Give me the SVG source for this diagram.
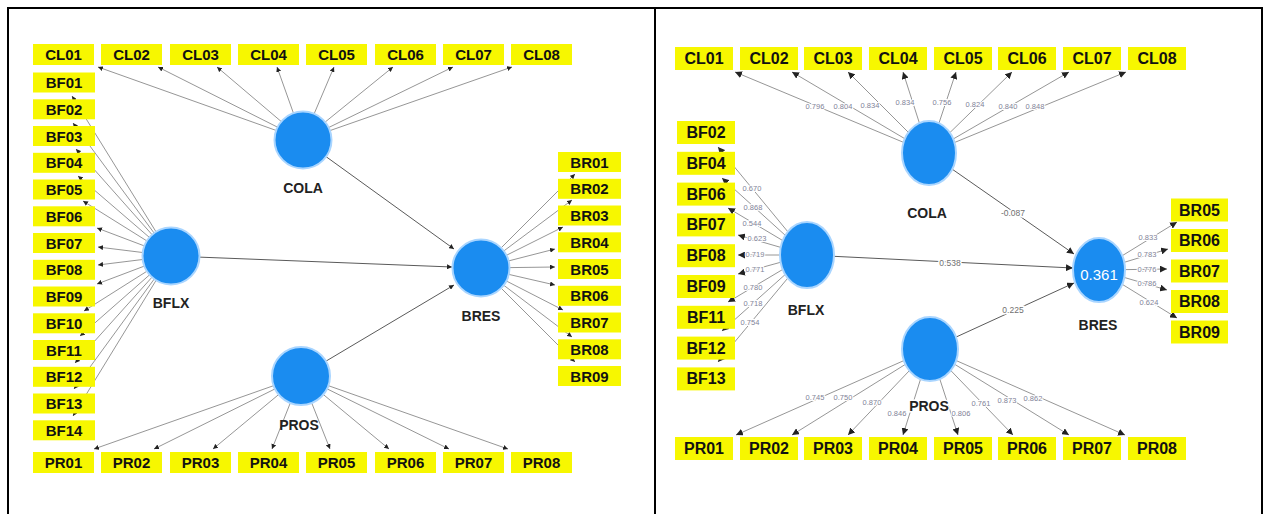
<svg xmlns="http://www.w3.org/2000/svg" width="1264" height="514" viewBox="0 0 1264 514">
<style>
.frame{fill:none;stroke:#000;stroke-width:2}
.ln{stroke:#8a8a8a;stroke-width:0.9;fill:none}
.pth{stroke:#5a5a5a;stroke-width:1;fill:none}
.box{fill:#f7f700}
.bt{font-family:"Liberation Sans",Arial,sans-serif;font-weight:bold;font-size:15px;fill:#111;text-anchor:middle}
.bt2{font-family:"Liberation Sans",Arial,sans-serif;font-weight:bold;font-size:16px;fill:#111;text-anchor:middle}
.lv{fill:#1a8cf0;stroke:#a9d5ff;stroke-width:2}
.lvt{font-family:"Liberation Sans",Arial,sans-serif;font-weight:bold;font-size:14px;fill:#222;text-anchor:middle}
.lvt2{font-family:"Liberation Sans",Arial,sans-serif;font-weight:bold;font-size:14px;fill:#222;text-anchor:middle;stroke:#fff;stroke-width:3;paint-order:stroke}
.r2{font-family:"Liberation Sans",Arial,sans-serif;font-size:15px;fill:#fff;text-anchor:middle}
.ld{font-family:"Liberation Sans",Arial,sans-serif;font-size:7.5px;fill:#7f8398;text-anchor:middle;stroke:#fff;stroke-width:2;paint-order:stroke}
.pl{font-family:"Liberation Sans",Arial,sans-serif;font-size:8.5px;fill:#707070;text-anchor:middle;stroke:#fff;stroke-width:3;paint-order:stroke}
</style>
<defs>
<marker id="a" viewBox="0 0 6 6" refX="6" refY="3" markerWidth="5" markerHeight="5" markerUnits="userSpaceOnUse" orient="auto"><path d="M0,0 L6,3 L0,6 z" fill="#222"/></marker>
<marker id="b" viewBox="0 0 6 6" refX="6" refY="3" markerWidth="7" markerHeight="7" markerUnits="userSpaceOnUse" orient="auto"><path d="M0,0 L6,3 L0,6 z" fill="#222"/></marker>
</defs>
<rect width="1264" height="514" fill="#fff"/>
<g id="frame">
<rect class="frame" x="8" y="8" width="1254" height="530"/>
<line x1="655" y1="8" x2="655" y2="514" stroke="#000" stroke-width="2"/>
</g>

<g id="connectors">
<g class="ln">
<line x1="303" y1="140" x2="98" y2="67" marker-end="url(#a)"/>
<line x1="303" y1="140" x2="158" y2="67" marker-end="url(#a)"/>
<line x1="303" y1="140" x2="217" y2="67" marker-end="url(#a)"/>
<line x1="303" y1="140" x2="277" y2="67" marker-end="url(#a)"/>
<line x1="303" y1="140" x2="334" y2="67" marker-end="url(#a)"/>
<line x1="303" y1="140" x2="393" y2="67" marker-end="url(#a)"/>
<line x1="303" y1="140" x2="453" y2="67" marker-end="url(#a)"/>
<line x1="303" y1="140" x2="512" y2="67" marker-end="url(#a)"/>
<line x1="171" y1="256" x2="72" y2="96" marker-end="url(#a)"/>
<line x1="171" y1="256" x2="73" y2="123" marker-end="url(#a)"/>
<line x1="171" y1="256" x2="76" y2="149" marker-end="url(#a)"/>
<line x1="171" y1="256" x2="78" y2="176" marker-end="url(#a)"/>
<line x1="171" y1="256" x2="83" y2="201" marker-end="url(#a)"/>
<line x1="171" y1="256" x2="97" y2="228" marker-end="url(#a)"/>
<line x1="171" y1="256" x2="98" y2="247" marker-end="url(#a)"/>
<line x1="171" y1="256" x2="98" y2="265" marker-end="url(#a)"/>
<line x1="171" y1="256" x2="97" y2="284" marker-end="url(#a)"/>
<line x1="171" y1="256" x2="84" y2="311" marker-end="url(#a)"/>
<line x1="171" y1="256" x2="80" y2="336" marker-end="url(#a)"/>
<line x1="171" y1="256" x2="75" y2="363" marker-end="url(#a)"/>
<line x1="171" y1="256" x2="74" y2="389" marker-end="url(#a)"/>
<line x1="171" y1="256" x2="73" y2="416" marker-end="url(#a)"/>
<line x1="481" y1="268" x2="575" y2="174" marker-end="url(#a)"/>
<line x1="481" y1="268" x2="572" y2="200" marker-end="url(#a)"/>
<line x1="481" y1="268" x2="563" y2="227" marker-end="url(#a)"/>
<line x1="481" y1="268" x2="555" y2="249" marker-end="url(#a)"/>
<line x1="481" y1="268" x2="555" y2="267" marker-end="url(#a)"/>
<line x1="481" y1="268" x2="555" y2="285" marker-end="url(#a)"/>
<line x1="481" y1="268" x2="563" y2="310" marker-end="url(#a)"/>
<line x1="481" y1="268" x2="572" y2="337" marker-end="url(#a)"/>
<line x1="481" y1="268" x2="575" y2="362" marker-end="url(#a)"/>
<line x1="301" y1="376" x2="94" y2="449" marker-end="url(#a)"/>
<line x1="301" y1="376" x2="154" y2="449" marker-end="url(#a)"/>
<line x1="301" y1="376" x2="213" y2="449" marker-end="url(#a)"/>
<line x1="301" y1="376" x2="272" y2="449" marker-end="url(#a)"/>
<line x1="301" y1="376" x2="330" y2="449" marker-end="url(#a)"/>
<line x1="301" y1="376" x2="389" y2="449" marker-end="url(#a)"/>
<line x1="301" y1="376" x2="449" y2="449" marker-end="url(#a)"/>
<line x1="301" y1="376" x2="508" y2="449" marker-end="url(#a)"/>
</g>
<g class="pth">
<line x1="303" y1="140" x2="454" y2="249" marker-end="url(#a)"/>
<line x1="171" y1="256" x2="452" y2="267" marker-end="url(#a)"/>
<line x1="301" y1="376" x2="454" y2="285" marker-end="url(#a)"/>
</g>

<g class="ln">
<line x1="929" y1="153" x2="735" y2="72" marker-end="url(#b)"/>
<line x1="929" y1="153" x2="792" y2="72" marker-end="url(#b)"/>
<line x1="929" y1="153" x2="848" y2="72" marker-end="url(#b)"/>
<line x1="929" y1="153" x2="903" y2="72" marker-end="url(#b)"/>
<line x1="929" y1="153" x2="956" y2="72" marker-end="url(#b)"/>
<line x1="929" y1="153" x2="1012" y2="72" marker-end="url(#b)"/>
<line x1="929" y1="153" x2="1069" y2="72" marker-end="url(#b)"/>
<line x1="929" y1="153" x2="1126" y2="72" marker-end="url(#b)"/>
<line x1="807" y1="255" x2="718" y2="147" marker-end="url(#b)"/>
<line x1="807" y1="255" x2="722" y2="178" marker-end="url(#b)"/>
<line x1="807" y1="255" x2="728" y2="208" marker-end="url(#b)"/>
<line x1="807" y1="255" x2="738" y2="235" marker-end="url(#b)"/>
<line x1="807" y1="255" x2="738" y2="255" marker-end="url(#b)"/>
<line x1="807" y1="255" x2="738" y2="274" marker-end="url(#b)"/>
<line x1="807" y1="255" x2="728" y2="302" marker-end="url(#b)"/>
<line x1="807" y1="255" x2="722" y2="331" marker-end="url(#b)"/>
<line x1="807" y1="255" x2="718" y2="362" marker-end="url(#b)"/>
<line x1="1099" y1="270" x2="1177" y2="222" marker-end="url(#b)"/>
<line x1="1099" y1="270" x2="1168" y2="249" marker-end="url(#b)"/>
<line x1="1099" y1="270" x2="1167" y2="269" marker-end="url(#b)"/>
<line x1="1099" y1="270" x2="1167" y2="290" marker-end="url(#b)"/>
<line x1="1099" y1="270" x2="1177" y2="318" marker-end="url(#b)"/>
<line x1="930" y1="349" x2="736" y2="435" marker-end="url(#b)"/>
<line x1="930" y1="349" x2="792" y2="435" marker-end="url(#b)"/>
<line x1="930" y1="349" x2="848" y2="435" marker-end="url(#b)"/>
<line x1="930" y1="349" x2="903" y2="435" marker-end="url(#b)"/>
<line x1="930" y1="349" x2="958" y2="435" marker-end="url(#b)"/>
<line x1="930" y1="349" x2="1013" y2="435" marker-end="url(#b)"/>
<line x1="930" y1="349" x2="1069" y2="435" marker-end="url(#b)"/>
<line x1="930" y1="349" x2="1125" y2="435" marker-end="url(#b)"/>
</g>
<g class="pth">
<line x1="929" y1="153" x2="1074" y2="254" marker-end="url(#b)"/>
<line x1="807" y1="255" x2="1073" y2="268" marker-end="url(#b)"/>
<line x1="930" y1="349" x2="1074" y2="283" marker-end="url(#b)"/>
</g>
<g>
<text class="ld" x="815" y="109">0.796</text>
<text class="ld" x="843" y="109">0.804</text>
<text class="ld" x="870" y="108">0.834</text>
<text class="ld" x="905" y="105">0.834</text>
<text class="ld" x="942" y="105">0.756</text>
<text class="ld" x="975" y="107">0.824</text>
<text class="ld" x="1008" y="109">0.840</text>
<text class="ld" x="1035" y="109">0.848</text>
<text class="ld" x="752" y="191">0.670</text>
<text class="ld" x="753" y="210">0.868</text>
<text class="ld" x="752" y="226">0.544</text>
<text class="ld" x="757" y="241">0.623</text>
<text class="ld" x="755" y="257">0.719</text>
<text class="ld" x="755" y="272">0.771</text>
<text class="ld" x="753" y="290">0.780</text>
<text class="ld" x="753" y="306">0.718</text>
<text class="ld" x="750" y="325">0.754</text>
<text class="ld" x="1148" y="240">0.833</text>
<text class="ld" x="1147" y="257">0.783</text>
<text class="ld" x="1147" y="272">0.776</text>
<text class="ld" x="1147" y="286">0.786</text>
<text class="ld" x="1149" y="305">0.624</text>
<text class="ld" x="815" y="400">0.745</text>
<text class="ld" x="843" y="400">0.750</text>
<text class="ld" x="872" y="405">0.870</text>
<text class="ld" x="897" y="416">0.846</text>
<text class="ld" x="961" y="416">0.806</text>
<text class="ld" x="981" y="406">0.761</text>
<text class="ld" x="1007" y="403">0.873</text>
<text class="ld" x="1033" y="401">0.862</text>
<text class="pl" x="1013" y="216">-0.087</text>
<text class="pl" x="950" y="266">0.538</text>
<text class="pl" x="1013" y="313">0.225</text>
</g>
</g>

<g id="L-COLA"><circle class="lv" cx="303" cy="140" r="28.5"/><text class="lvt" x="303" y="193">COLA</text></g>
<g id="L-BFLX"><circle class="lv" cx="171" cy="256" r="28.5"/><text class="lvt" x="171" y="308">BFLX</text></g>
<g id="L-BRES"><circle class="lv" cx="481" cy="268" r="28.5"/><text class="lvt" x="481" y="321">BRES</text></g>
<g id="L-PROS"><circle class="lv" cx="301" cy="376" r="29"/><text class="lvt" x="299" y="430">PROS</text></g>

<g id="L-CL">
<rect class="box" x="33" y="44" width="61" height="21"/><text class="bt" x="63.5" y="60">CL01</text>
<rect class="box" x="101" y="44" width="61" height="21"/><text class="bt" x="131.5" y="60">CL02</text>
<rect class="box" x="170" y="44" width="61" height="21"/><text class="bt" x="200.5" y="60">CL03</text>
<rect class="box" x="238" y="44" width="61" height="21"/><text class="bt" x="268.5" y="60">CL04</text>
<rect class="box" x="306" y="44" width="61" height="21"/><text class="bt" x="336.5" y="60">CL05</text>
<rect class="box" x="375" y="44" width="61" height="21"/><text class="bt" x="405.5" y="60">CL06</text>
<rect class="box" x="443" y="44" width="61" height="21"/><text class="bt" x="473.5" y="60">CL07</text>
<rect class="box" x="511" y="44" width="61" height="21"/><text class="bt" x="541.5" y="60">CL08</text>
</g>
<g id="L-BF">
<rect class="box" x="33" y="72.5" width="62" height="20"/><text class="bt" x="64" y="88">BF01</text>
<rect class="box" x="33" y="99.3" width="62" height="20"/><text class="bt" x="64" y="114.8">BF02</text>
<rect class="box" x="33" y="126" width="62" height="20"/><text class="bt" x="64" y="141.5">BF03</text>
<rect class="box" x="33" y="152.8" width="62" height="20"/><text class="bt" x="64" y="168.3">BF04</text>
<rect class="box" x="33" y="179.5" width="62" height="20"/><text class="bt" x="64" y="195">BF05</text>
<rect class="box" x="33" y="206.3" width="62" height="20"/><text class="bt" x="64" y="221.8">BF06</text>
<rect class="box" x="33" y="233" width="62" height="20"/><text class="bt" x="64" y="248.5">BF07</text>
<rect class="box" x="33" y="259.8" width="62" height="20"/><text class="bt" x="64" y="275.3">BF08</text>
<rect class="box" x="33" y="286.5" width="62" height="20"/><text class="bt" x="64" y="302">BF09</text>
<rect class="box" x="33" y="313.3" width="62" height="20"/><text class="bt" x="64" y="328.8">BF10</text>
<rect class="box" x="33" y="340" width="62" height="20"/><text class="bt" x="64" y="355.5">BF11</text>
<rect class="box" x="33" y="366.8" width="62" height="20"/><text class="bt" x="64" y="382.3">BF12</text>
<rect class="box" x="33" y="393.5" width="62" height="20"/><text class="bt" x="64" y="409">BF13</text>
<rect class="box" x="33" y="420.3" width="62" height="20"/><text class="bt" x="64" y="435.8">BF14</text>
</g>
<g id="L-BR">
<rect class="box" x="558" y="152" width="63" height="20"/><text class="bt" x="589.5" y="167.5">BR01</text>
<rect class="box" x="558" y="178.8" width="63" height="20"/><text class="bt" x="589.5" y="194.3">BR02</text>
<rect class="box" x="558" y="205.5" width="63" height="20"/><text class="bt" x="589.5" y="221">BR03</text>
<rect class="box" x="558" y="232.3" width="63" height="20"/><text class="bt" x="589.5" y="247.8">BR04</text>
<rect class="box" x="558" y="259" width="63" height="20"/><text class="bt" x="589.5" y="274.5">BR05</text>
<rect class="box" x="558" y="285.8" width="63" height="20"/><text class="bt" x="589.5" y="301.3">BR06</text>
<rect class="box" x="558" y="312.5" width="63" height="20"/><text class="bt" x="589.5" y="328">BR07</text>
<rect class="box" x="558" y="339.3" width="63" height="20"/><text class="bt" x="589.5" y="354.8">BR08</text>
<rect class="box" x="558" y="366" width="63" height="20"/><text class="bt" x="589.5" y="381.5">BR09</text>
</g>
<g id="L-PR">
<rect class="box" x="33" y="452" width="61" height="21"/><text class="bt" x="63.5" y="468">PR01</text>
<rect class="box" x="101" y="452" width="61" height="21"/><text class="bt" x="131.5" y="468">PR02</text>
<rect class="box" x="170" y="452" width="61" height="21"/><text class="bt" x="200.5" y="468">PR03</text>
<rect class="box" x="238" y="452" width="61" height="21"/><text class="bt" x="268.5" y="468">PR04</text>
<rect class="box" x="306" y="452" width="61" height="21"/><text class="bt" x="336.5" y="468">PR05</text>
<rect class="box" x="375" y="452" width="61" height="21"/><text class="bt" x="405.5" y="468">PR06</text>
<rect class="box" x="443" y="452" width="61" height="21"/><text class="bt" x="473.5" y="468">PR07</text>
<rect class="box" x="511" y="452" width="61" height="21"/><text class="bt" x="541.5" y="468">PR08</text>
</g>

<g id="R-COLA"><ellipse class="lv" cx="929" cy="153" rx="27" ry="32"/><text class="lvt" x="927" y="218">COLA</text></g>
<g id="R-BFLX"><ellipse class="lv" cx="807" cy="255" rx="27" ry="33"/><text class="lvt" x="806" y="315">BFLX</text></g>
<g id="R-BRES"><ellipse class="lv" cx="1099" cy="270" rx="26" ry="32"/><text class="r2" x="1099" y="280">0.361</text><text class="lvt" x="1098" y="330">BRES</text></g>
<g id="R-PROS"><ellipse class="lv" cx="930" cy="349" rx="28" ry="32"/><text class="lvt2" x="929" y="411">PROS</text></g>

<g id="R-CL">
<rect class="box" x="675" y="47" width="58" height="23"/><text class="bt2" x="704" y="64">CL01</text>
<rect class="box" x="740" y="47" width="58" height="23"/><text class="bt2" x="769" y="64">CL02</text>
<rect class="box" x="804" y="47" width="58" height="23"/><text class="bt2" x="833" y="64">CL03</text>
<rect class="box" x="869" y="47" width="58" height="23"/><text class="bt2" x="898" y="64">CL04</text>
<rect class="box" x="934" y="47" width="58" height="23"/><text class="bt2" x="963" y="64">CL05</text>
<rect class="box" x="998" y="47" width="58" height="23"/><text class="bt2" x="1027" y="64">CL06</text>
<rect class="box" x="1063" y="47" width="58" height="23"/><text class="bt2" x="1092" y="64">CL07</text>
<rect class="box" x="1128" y="47" width="58" height="23"/><text class="bt2" x="1157" y="64">CL08</text>
</g>
<g id="R-BF">
<rect class="box" x="677" y="121" width="58" height="23"/><text class="bt2" x="706" y="138">BF02</text>
<rect class="box" x="677" y="151.8" width="58" height="23"/><text class="bt2" x="706" y="168.8">BF04</text>
<rect class="box" x="677" y="182.6" width="58" height="23"/><text class="bt2" x="706" y="199.6">BF06</text>
<rect class="box" x="677" y="213.4" width="58" height="23"/><text class="bt2" x="706" y="230.4">BF07</text>
<rect class="box" x="677" y="244.2" width="58" height="23"/><text class="bt2" x="706" y="261.2">BF08</text>
<rect class="box" x="677" y="275" width="58" height="23"/><text class="bt2" x="706" y="292">BF09</text>
<rect class="box" x="677" y="305.8" width="58" height="23"/><text class="bt2" x="706" y="322.8">BF11</text>
<rect class="box" x="677" y="336.6" width="58" height="23"/><text class="bt2" x="706" y="353.6">BF12</text>
<rect class="box" x="677" y="367.4" width="58" height="23"/><text class="bt2" x="706" y="384.4">BF13</text>
</g>
<g id="R-BR">
<rect class="box" x="1171" y="198.5" width="57" height="23"/><text class="bt2" x="1199.5" y="215.5">BR05</text>
<rect class="box" x="1171" y="229" width="57" height="23"/><text class="bt2" x="1199.5" y="246">BR06</text>
<rect class="box" x="1171" y="259.5" width="57" height="23"/><text class="bt2" x="1199.5" y="276.5">BR07</text>
<rect class="box" x="1171" y="290" width="57" height="23"/><text class="bt2" x="1199.5" y="307">BR08</text>
<rect class="box" x="1171" y="320.5" width="57" height="23"/><text class="bt2" x="1199.5" y="337.5">BR09</text>
</g>
<g id="R-PR">
<rect class="box" x="675" y="437" width="58" height="23"/><text class="bt2" x="704" y="454">PR01</text>
<rect class="box" x="740" y="437" width="58" height="23"/><text class="bt2" x="769" y="454">PR02</text>
<rect class="box" x="804" y="437" width="58" height="23"/><text class="bt2" x="833" y="454">PR03</text>
<rect class="box" x="869" y="437" width="58" height="23"/><text class="bt2" x="898" y="454">PR04</text>
<rect class="box" x="934" y="437" width="58" height="23"/><text class="bt2" x="963" y="454">PR05</text>
<rect class="box" x="998" y="437" width="58" height="23"/><text class="bt2" x="1027" y="454">PR06</text>
<rect class="box" x="1063" y="437" width="58" height="23"/><text class="bt2" x="1092" y="454">PR07</text>
<rect class="box" x="1128" y="437" width="58" height="23"/><text class="bt2" x="1157" y="454">PR08</text>
</g>
</svg>
